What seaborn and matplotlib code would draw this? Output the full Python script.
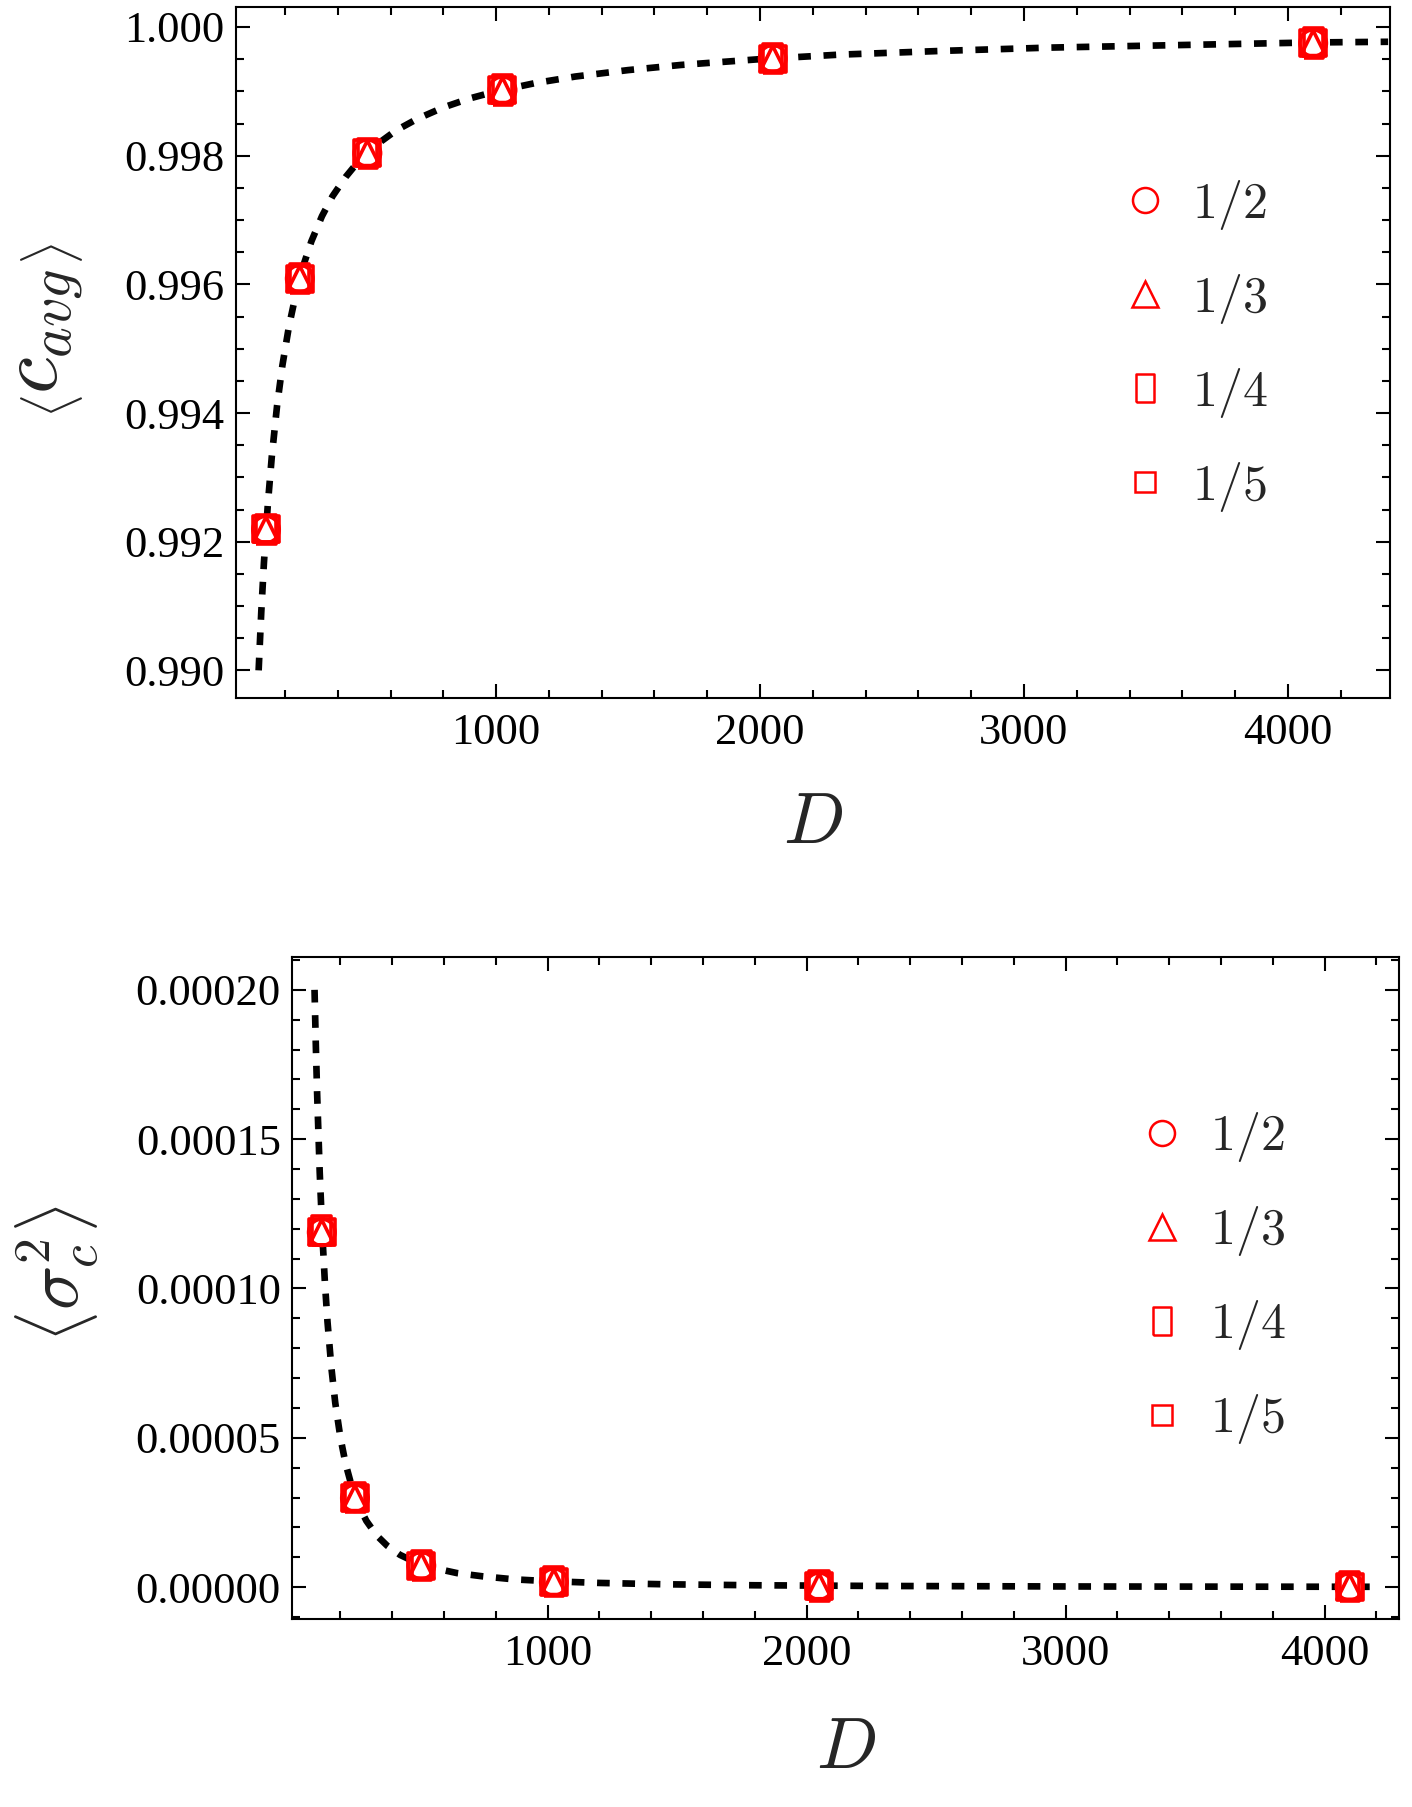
import seaborn as sns
import matplotlib.pyplot as plt
from matplotlib.lines import Line2D
from matplotlib.ticker import MultipleLocator, FuncFormatter

# values
D = [128, 256, 512, 1024, 2048, 4096]
ratios = ['1/2', '1/3', '1/4', '1/5']

c_avg_12 = [0.99219, 0.99609, 0.99804, 0.99902, 0.99951, 0.99975]
c_avg_13 = [0.99219, 0.99609, 0.99804, 0.99902, 0.99951, 0.99975]
c_avg_14 = [0.99219, 0.99609, 0.99804, 0.99902, 0.99951, 0.99975]
c_avg_15 = [0.99219, 0.99609, 0.99804, 0.99902, 0.99951, 0.99975]

sig_12 = [0.0001188, 0.0000298, 0.0000072, 0.0000017, 0.0000003, 0.0000001]
sig_13 = [0.0001188, 0.0000298, 0.0000072, 0.0000017, 0.0000003, 0.0000001]
sig_14 = [0.0001195, 0.0000300, 0.0000073, 0.0000018, 0.0000004, 0.0000001]
sig_15 = [0.0001188, 0.0000298, 0.0000072, 0.0000017, 0.0000003, 0.0000001]

# dashed curves
fit_D_top = [100, 110, 120, 135, 150, 170, 190, 215, 240, 270, 300, 340, 380, 430,
             480, 550, 620, 700, 800, 900, 1000, 1150, 1300, 1500, 1700, 2000,
             2300, 2700, 3100, 3600, 4100, 4380]
fit_c_top = [0.99000, 0.99091, 0.99167, 0.99259, 0.99333, 0.99412, 0.99474,
             0.99535, 0.99583, 0.99630, 0.99667, 0.99706, 0.99737, 0.99767,
             0.99792, 0.99818, 0.99839, 0.99857, 0.99875, 0.99889, 0.99900,
             0.99913, 0.99923, 0.99933, 0.99941, 0.99950, 0.99957, 0.99963,
             0.99968, 0.99972, 0.99976, 0.99977]

fit_D_bot = [100, 105, 110, 120, 130, 140, 150, 165, 180, 200, 220, 245, 270, 300,
             340, 380, 430, 490, 560, 650, 750, 870, 1000, 1200, 1450, 1800, 2300,
             3000, 3700, 4200]
fit_s_bot = [2.0e-4, 1.814e-4, 1.653e-4, 1.389e-4, 1.183e-4, 1.020e-4, 8.89e-5,
             7.35e-5, 6.17e-5, 5.00e-5, 4.13e-5, 3.33e-5, 2.74e-5, 2.22e-5,
             1.73e-5, 1.39e-5, 1.08e-5, 8.3e-6, 6.4e-6, 4.7e-6, 3.6e-6, 2.6e-6,
             2.0e-6, 1.4e-6, 9.5e-7, 6.2e-7, 3.8e-7, 2.2e-7, 1.5e-7, 1.1e-7]

sns.set_theme(style="ticks")
plt.rcParams['mathtext.fontset'] = 'cm'
plt.rcParams['font.family'] = ['Liberation Serif', 'DejaVu Serif']

rect = [(-0.33, -0.5), (0.33, -0.5), (0.33, 0.5), (-0.33, 0.5), (-0.33, -0.5)]
# (marker, data size pt, legend size pt)
styles = {'1/5': ('s', 19, 14.5), '1/4': (rect, 21, 19.5),
          '1/2': ('o', 19, 18), '1/3': ('^', 18, 18.5)}

fig = plt.figure(figsize=(14.12, 18.07), dpi=100)
ax1 = fig.add_axes([0.1671, 0.6137, 0.8173, 0.3824])
ax2 = fig.add_axes([0.2068, 0.1040, 0.7840, 0.3664])


def draw(ax, fx, fy, series):
    sns.lineplot(x=fx, y=fy, ax=ax, color='black', lw=4.8, sort=False,
                 linestyle=(0, (1.9, 1.9)), errorbar=None, zorder=2)
    first = True
    for lab in ['1/5', '1/4', '1/2', '1/3']:
        m, ms, _ = styles[lab]
        sns.scatterplot(x=D, y=series[lab], ax=ax, marker=m, s=ms ** 2,
                        color='red', facecolor='white' if first else 'none',
                        edgecolor='red', linewidth=2.6, zorder=3)
        first = False
    handles = []
    for lab in ratios:
        m, _, lms = styles[lab]
        handles.append(Line2D([], [], ls='none', marker=m, ms=lms, mfc='none',
                              mec='red', mew=1.8, label='$' + lab + '$'))
    return handles


h1 = draw(ax1, fit_D_top, fit_c_top,
          {'1/2': c_avg_12, '1/3': c_avg_13, '1/4': c_avg_14, '1/5': c_avg_15})
h2 = draw(ax2, fit_D_bot, fit_s_bot,
          {'1/2': sig_12, '1/3': sig_13, '1/4': sig_14, '1/5': sig_15})

ax1.set_xlim(14, 4387)
ax1.set_ylim(0.98957, 1.00031)
ax2.set_xlim(13, 4287)
ax2.set_ylim(-0.0000107, 0.000211)

ax1.yaxis.set_major_locator(MultipleLocator(0.002))
ax1.yaxis.set_minor_locator(MultipleLocator(0.0005))
ax1.yaxis.set_major_formatter(FuncFormatter(lambda v, p: f'{v:.3f}'))
ax2.yaxis.set_major_locator(MultipleLocator(0.00005))
ax2.yaxis.set_minor_locator(MultipleLocator(0.00001))
ax2.yaxis.set_major_formatter(FuncFormatter(lambda v, p: f'{v:.5f}'))

for ax in (ax1, ax2):
    ax.xaxis.set_major_locator(MultipleLocator(1000))
    ax.xaxis.set_minor_locator(MultipleLocator(200))
    ax.xaxis.set_major_formatter(FuncFormatter(lambda v, p: f'{v:.0f}'))
    ax.tick_params(which='both', direction='in', top=True, right=True,
                   width=1.5, color='black', labelsize=32, labelcolor='black')
    ax.tick_params(which='major', length=10)
    ax.tick_params(which='minor', length=6)
    ax.tick_params(axis='x', pad=11)
    ax.tick_params(axis='y', pad=8)
    for sp in ax.spines.values():
        sp.set_linewidth(1.5)
        sp.set_color('black')
    ax.set_xlabel('$D$', fontsize=52)

ax1.set_ylabel(r'$\left\langle c_{avg} \right\rangle$', fontsize=60,
               ha='center', va='center', rotation_mode='default')
ax2.set_ylabel(r'$\left\langle \sigma_c^2 \right\rangle$', fontsize=53,
               ha='center', va='center', rotation_mode='default')
ax1.yaxis.set_label_coords(-0.1626, 0.531)
ax2.yaxis.set_label_coords(-0.2117, 0.5215)
ax1.xaxis.set_label_coords(0.5, -0.137)
ax2.xaxis.set_label_coords(0.5, -0.149)

ax1.legend(handles=h1, loc='center left', bbox_to_anchor=(0.744, 0.51),
           frameon=False, fontsize=36, handlelength=1.0, handletextpad=0.45,
           labelspacing=0.8, borderpad=0)
ax2.legend(handles=h2, loc='center left', bbox_to_anchor=(0.741, 0.515),
           frameon=False, fontsize=36, handlelength=1.0, handletextpad=0.45,
           labelspacing=0.8, borderpad=0)

plt.savefig('out.png', dpi=100)
